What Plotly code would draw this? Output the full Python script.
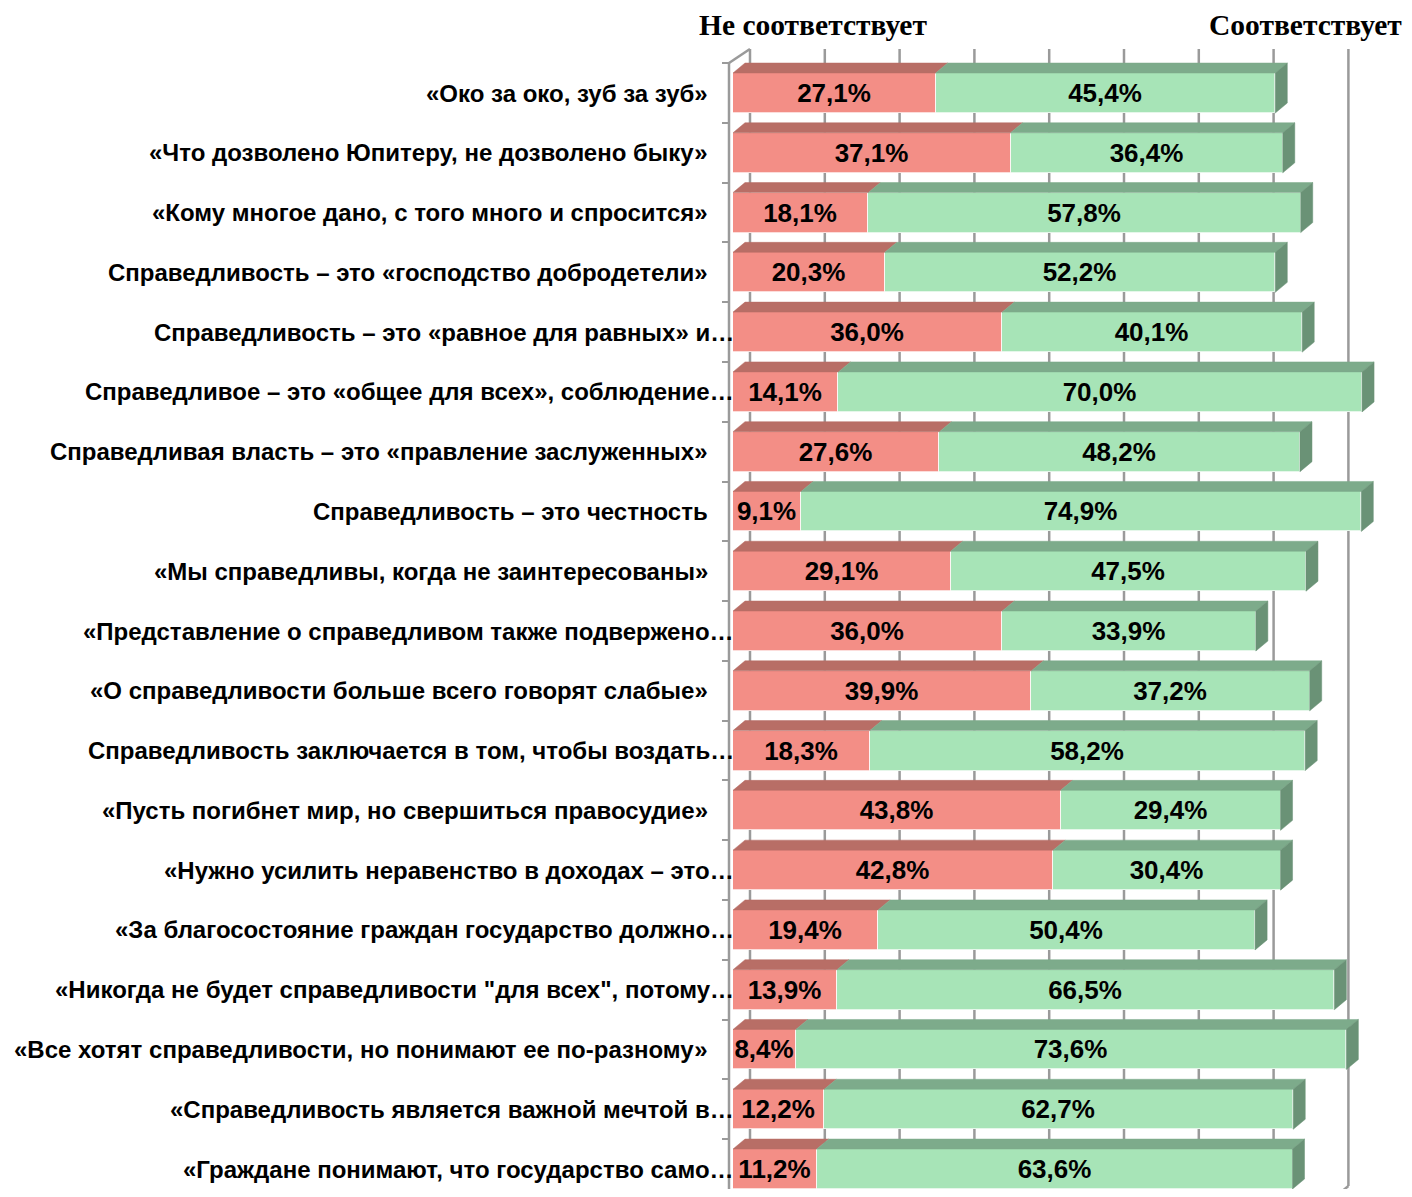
import plotly.graph_objects as go

# ---------------- data ----------------
labels = [
    "«Око за око, зуб за зуб»",
    "«Что дозволено Юпитеру, не дозволено быку»",
    "«Кому многое дано, с того много и спросится»",
    "Справедливость – это «господство добродетели»",
    "Справедливость – это «равное для равных» и…",
    "Справедливое – это «общее для всех», соблюдение…",
    "Справедливая власть – это «правление заслуженных»",
    "Справедливость – это честность",
    "«Мы справедливы, когда не заинтересованы»",
    "«Представление о справедливом также подвержено…",
    "«О справедливости больше всего говорят слабые»",
    "Справедливость заключается в том, чтобы воздать…",
    "«Пусть погибнет мир, но свершиться правосудие»",
    "«Нужно усилить неравенство в доходах – это…",
    "«За благосостояние граждан государство должно…",
    "«Никогда не будет справедливости \"для всех\", потому…",
    "«Все хотят справедливости, но понимают ее по-разному»",
    "«Справедливость является важной мечтой в…",
    "«Граждане понимают, что государство само…",
]
ne_sootvetstvuet = [27.1, 37.1, 18.1, 20.3, 36.0, 14.1, 27.6, 9.1, 29.1, 36.0,
                    39.9, 18.3, 43.8, 42.8, 19.4, 13.9, 8.4, 12.2, 11.2]
sootvetstvuet = [45.4, 36.4, 57.8, 52.2, 40.1, 70.0, 48.2, 74.9, 47.5, 33.9,
                 37.2, 58.2, 29.4, 30.4, 50.4, 66.5, 73.6, 62.7, 63.6]
header_left = "Не соответствует"
header_right = "Соответствует"
grid_values = [0, 10, 20, 30, 40, 50, 60, 70, 80]

# ---------------- geometry / style (page pixels, body margin 8) ----------------
OFF = 8
W, H = 1412 - OFF, 1197 - 2 * OFF
ML, MT = 700 - OFF, 48 - OFF
PX_PER_X = 7.48
X0_PX = 733 - OFF
ROW0_PX = 93 - OFF
ROW_PX = 59.78

xmin = -(X0_PX - ML) / PX_PER_X
xmax = xmin + (W - ML) / PX_PER_X
ytop = -(ROW0_PX - MT) / ROW_PX
ybot = ytop + (H - MT) / ROW_PX

BAR_W = 40 / ROW_PX
DX = 12 / PX_PER_X
DY = -10 / ROW_PX
GX = 17 / PX_PER_X
V_FLOOR = (1186 - 93) / ROW_PX
V_GRID_TOP = (49 - 93) / ROW_PX

RED_FRONT = "#F38E86"
RED_TOP = "#B86E66"
GREEN_FRONT = "#A7E4B7"
GREEN_TOP = "#7DAB8B"
GREEN_SIDE = "#6A9276"
GRID = "#9a9a9a"

idx = list(range(len(labels)))


def fmt(v):
    return f"{v:.1f}".replace(".", ",") + "%"


fig = go.Figure()

label_font = dict(family="Liberation Sans, Arial", size=26, color="black", weight="bold")

fig.add_trace(go.Bar(
    y=idx, x=ne_sootvetstvuet, orientation="h", width=BAR_W,
    marker=dict(color=RED_FRONT, line=dict(color="rgba(255,255,255,0.7)", width=1)),
    text=[fmt(v) for v in ne_sootvetstvuet], textposition="inside",
    insidetextanchor="middle", constraintext="none", textfont=label_font,
    showlegend=False, hoverinfo="skip",
))
fig.add_trace(go.Bar(
    y=idx, x=sootvetstvuet, orientation="h", width=BAR_W,
    marker=dict(color=GREEN_FRONT, line=dict(color="rgba(255,255,255,0.7)", width=1)),
    text=[fmt(v) for v in sootvetstvuet], textposition="inside",
    insidetextanchor="middle", constraintext="none", textfont=label_font,
    showlegend=False, hoverinfo="skip",
))

# 3D faces built from data values
rx, ry, gx, gy, sx, sy = [], [], [], [], [], []
for i, r, g in zip(idx, ne_sootvetstvuet, sootvetstvuet):
    yt = i - BAR_W / 2
    yb = i + BAR_W / 2
    t = r + g
    rx += [0, r, r + DX, DX, 0, None]
    ry += [yt, yt, yt + DY, yt + DY, yt, None]
    gx += [r, t, t + DX, r + DX, r, None]
    gy += [yt, yt, yt + DY, yt + DY, yt, None]
    sx += [t, t + DX, t + DX, t, t, None]
    sy += [yt, yt + DY, yb + DY, yb, yt, None]

for xs, ys, col in [(rx, ry, RED_TOP), (gx, gy, GREEN_TOP), (sx, sy, GREEN_SIDE)]:
    fig.add_trace(go.Scatter(x=xs, y=ys, mode="lines", fill="toself",
                             fillcolor=col, line=dict(color=col, width=0.5),
                             showlegend=False, hoverinfo="skip"))

shapes = []
for v in grid_values:
    shapes.append(dict(type="line", xref="x", yref="y", layer="below",
                       x0=v + GX, x1=v + GX, y0=V_GRID_TOP, y1=V_FLOOR,
                       line=dict(color=GRID, width=2.5)))
    shapes.append(dict(type="line", xref="x", yref="y", layer="below",
                       x0=v + GX, x1=v + GX - 2 * DX, y0=V_FLOOR, y1=V_FLOOR - 2 * DY,
                       line=dict(color=GRID, width=2.5)))
# left wall
wall_x = -(733 - 729) / PX_PER_X
wall_top = (63 - 93) / ROW_PX
shapes.append(dict(type="line", xref="x", yref="y", layer="below",
                   x0=wall_x, x1=wall_x, y0=wall_top, y1=ybot + 1,
                   line=dict(color=GRID, width=2.5)))
shapes.append(dict(type="line", xref="x", yref="y", layer="below",
                   x0=wall_x, x1=GX, y0=wall_top, y1=V_GRID_TOP,
                   line=dict(color=GRID, width=2.5)))

annotations = []
for i, lab in zip(idx, labels):
    right_px = (736 if lab.endswith("…") else 710) - OFF
    annotations.append(dict(
        xref="paper", yref="y", x=(right_px - ML) / (W - ML), y=i,
        xanchor="right", yanchor="middle", showarrow=False, text=lab,
        font=dict(family="Liberation Sans, Arial", size=24, color="black", weight="bold"),
    ))
hdr_font = dict(family="Liberation Serif, Times New Roman", size=29.5, color="black", weight="bold")
hdr_y = 1 + (MT - (25 - OFF)) / (H - MT)
annotations.append(dict(
    xref="paper", yref="paper", x=(813 - OFF - ML) / (W - ML), y=hdr_y,
    xanchor="center", yanchor="middle", showarrow=False, text=header_left, font=hdr_font))
annotations.append(dict(
    xref="paper", yref="paper", x=(1404 - OFF - ML) / (W - ML), y=hdr_y,
    xanchor="right", yanchor="middle", showarrow=False, text=header_right, font=hdr_font))

fig.update_layout(
    width=W, height=H, barmode="stack", bargap=0,
    margin=dict(l=ML, r=0, t=MT, b=0),
    plot_bgcolor="white", paper_bgcolor="white",
    shapes=shapes, annotations=annotations, showlegend=False,
    xaxis=dict(range=[xmin, xmax], showgrid=False, zeroline=False,
               showticklabels=False, ticks="", showline=False, fixedrange=True),
    yaxis=dict(range=[ybot, ytop], showgrid=False, zeroline=False,
               showticklabels=False, tickmode="linear", tick0=0, dtick=1, ticks="",
               anchor="free", position=(729 - OFF - ML) / (W - ML), showline=False,
               minor=dict(tickmode="linear", tick0=0.5, dtick=1, ticks="outside",
                          ticklen=7, tickwidth=2, tickcolor=GRID),
               fixedrange=True),
)

fig.write_html("out.html")
